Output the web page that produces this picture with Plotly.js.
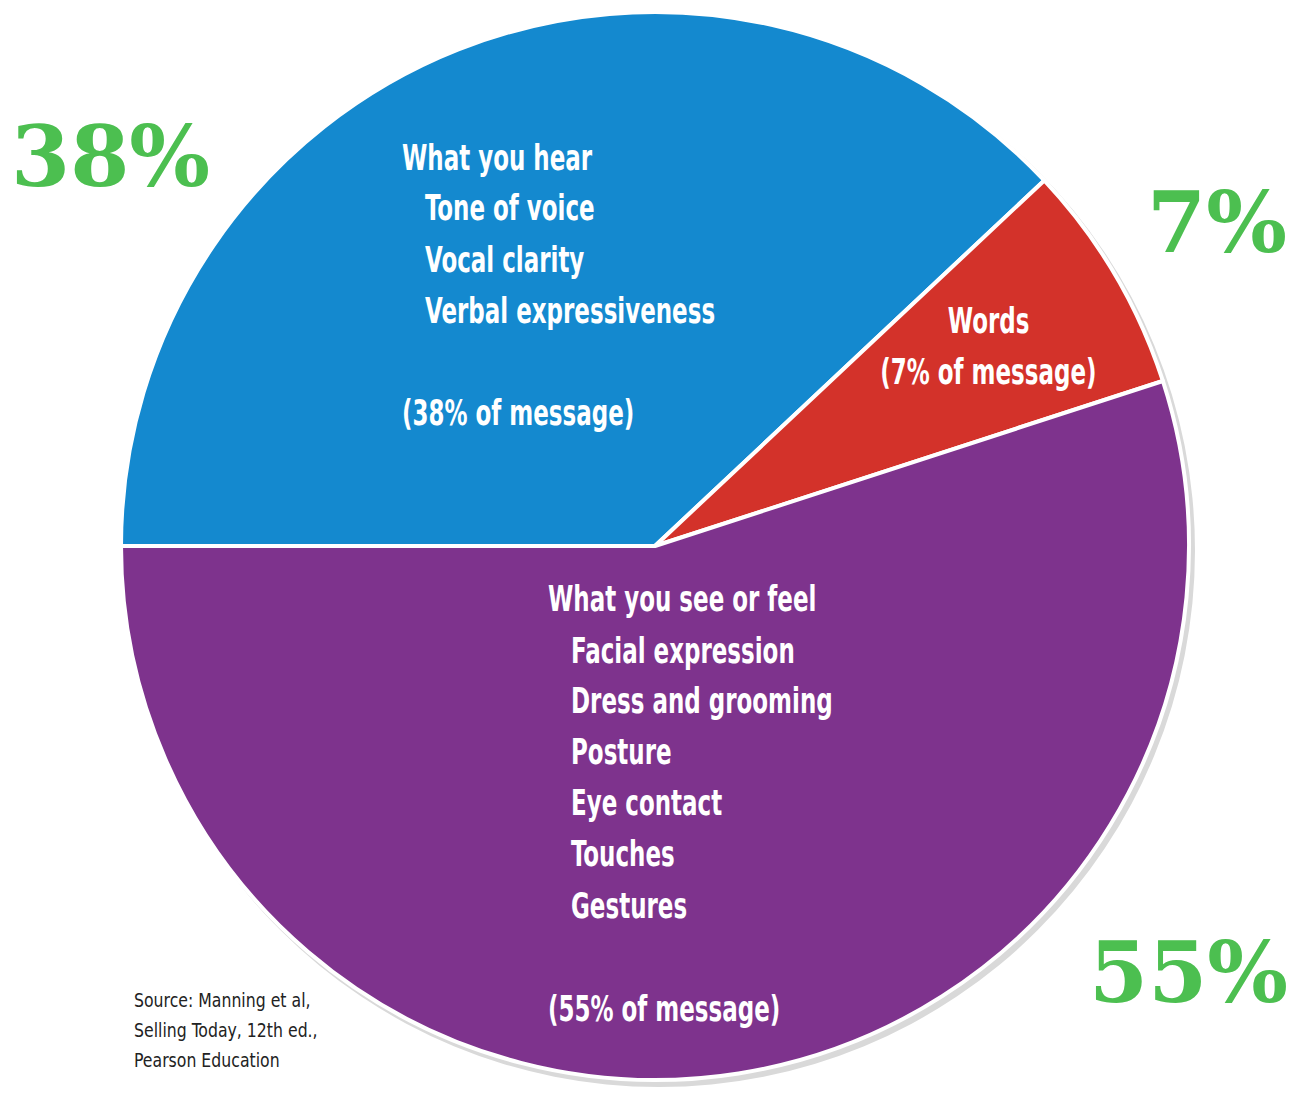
<!DOCTYPE html>
<html>
<head>
<meta charset="utf-8">
<script src="https://cdn.plot.ly/plotly-3.0.1.min.js"></script>
<style>html,body{margin:0;padding:0;background:#fff;}#chart{width:1293px;height:1097px;}</style>
</head>
<body>
<div id="chart"></div>
<script>
// ---- data ----
const categories = ["What you hear", "Words", "What you see or feel"];
const shares = [38, 7, 55];
const sliceColors = ["#1489CF", "#D3322A", "#7E338D"];
const bigLabels = ["38%", "7%", "55%"];
const hearLines = ["What you hear", "Tone of voice", "Vocal clarity", "Verbal expressiveness", "(38% of message)"];
const wordsLines = ["Words", "(7% of message)"];
const seeLines = ["What you see or feel", "Facial expression", "Dress and grooming", "Posture", "Eye contact", "Touches", "Gestures", "(55% of message)"];
const sourceLines = ["Source: Manning et al,", "Selling Today, 12th ed.,", "Pearson Education"];

// ---- layout helpers (pixel -> paper) ----
const W = 1293, H = 1097;
const px = x => x / W;
const py = y => 1 - y / H;

const labelFont = {family: "DejaVu Sans Condensed, Liberation Sans Narrow, sans-serif", size: 36, color: "#ffffff"};
const annotations = [];
const squeeze = {};   // annotation index -> horizontal squeeze factor, anchor
function addLine(text, x, y, anchor, font, sq) {
  if (sq) squeeze[annotations.length] = {f: sq, anchor: anchor};
  annotations.push({text: text, x: px(x), y: py(y), xref: "paper", yref: "paper",
    xanchor: anchor, yanchor: "middle", showarrow: false, font: font, align: anchor});
}
const SQ = 0.71;
// blue slice text
const hearY = [157, 208, 259, 310, 412];
const hearX = [400, 423, 423, 423, 400];
hearLines.forEach((t, i) => addLine("<b>" + t + "</b>", hearX[i], hearY[i], "left", labelFont, SQ));
// red slice text
const wordsY = [320, 372];
wordsLines.forEach((t, i) => addLine("<b>" + t + "</b>", 988, wordsY[i], "center", labelFont, SQ));
// purple slice text
const seeY = [598, 650, 700, 751, 802, 853, 905, 1008];
const seeX = [546, 569, 569, 569, 569, 569, 569, 546];
seeLines.forEach((t, i) => addLine("<b>" + t + "</b>", seeX[i], seeY[i], "left", labelFont, SQ));
// big green percentages
const bigFont = {family: "DejaVu Serif, serif", size: 85, color: "#4CBF50"};
const bigPos = [[110, 156], [1217, 222], [1188, 972]];
bigLabels.forEach((t, i) => addLine("<b>" + t + "</b>", bigPos[i][0], bigPos[i][1], "center", bigFont, null));
// source
const srcFont = {family: "DejaVu Sans Condensed, Liberation Sans Narrow, sans-serif", size: 19, color: "#222222"};
const srcY = [1000, 1030, 1060];
sourceLines.forEach((t, i) => addLine(t, 132, srcY[i], "left", srcFont, 0.92));

const cx = 655, cy = 546, r = 534;

const trace = {
  type: "pie",
  labels: categories,
  values: shares,
  sort: false,
  direction: "clockwise",
  rotation: -90,
  textinfo: "none",
  hoverinfo: "label+percent",
  marker: {colors: sliceColors, line: {color: "#ffffff", width: 4}},
  domain: {x: [px(cx - r), px(cx + r)], y: [py(cy + r), py(cy - r)]},
  showlegend: false
};

const layout = {
  width: W, height: H,
  margin: {l: 0, r: 0, t: 0, b: 0},
  paper_bgcolor: "#ffffff",
  showlegend: false,
  annotations: annotations,
  shapes: [{type: "circle", xref: "paper", yref: "paper", layer: "below",
    x0: px(cx - r + 2), x1: px(cx + r + 6), y0: py(cy + r + 7), y1: py(cy - r + 2),
    fillcolor: "#d9d9d9", line: {width: 0}}]
};

Plotly.newPlot("chart", [trace], layout, {displayModeBar: false, staticPlot: true}).then(gd => {
  Object.keys(squeeze).forEach(k => {
    const s = squeeze[k];
    const el = gd.querySelector('g.annotation[data-index="' + k + '"] text.annotation-text');
    if (!el) return;
    el.style.transformBox = "fill-box";
    el.style.transformOrigin = (s.anchor === "left" ? "0%" : "50%") + " 50%";
    el.style.transform = "scaleX(" + s.f + ")";
  });
});
</script>
</body>
</html>
